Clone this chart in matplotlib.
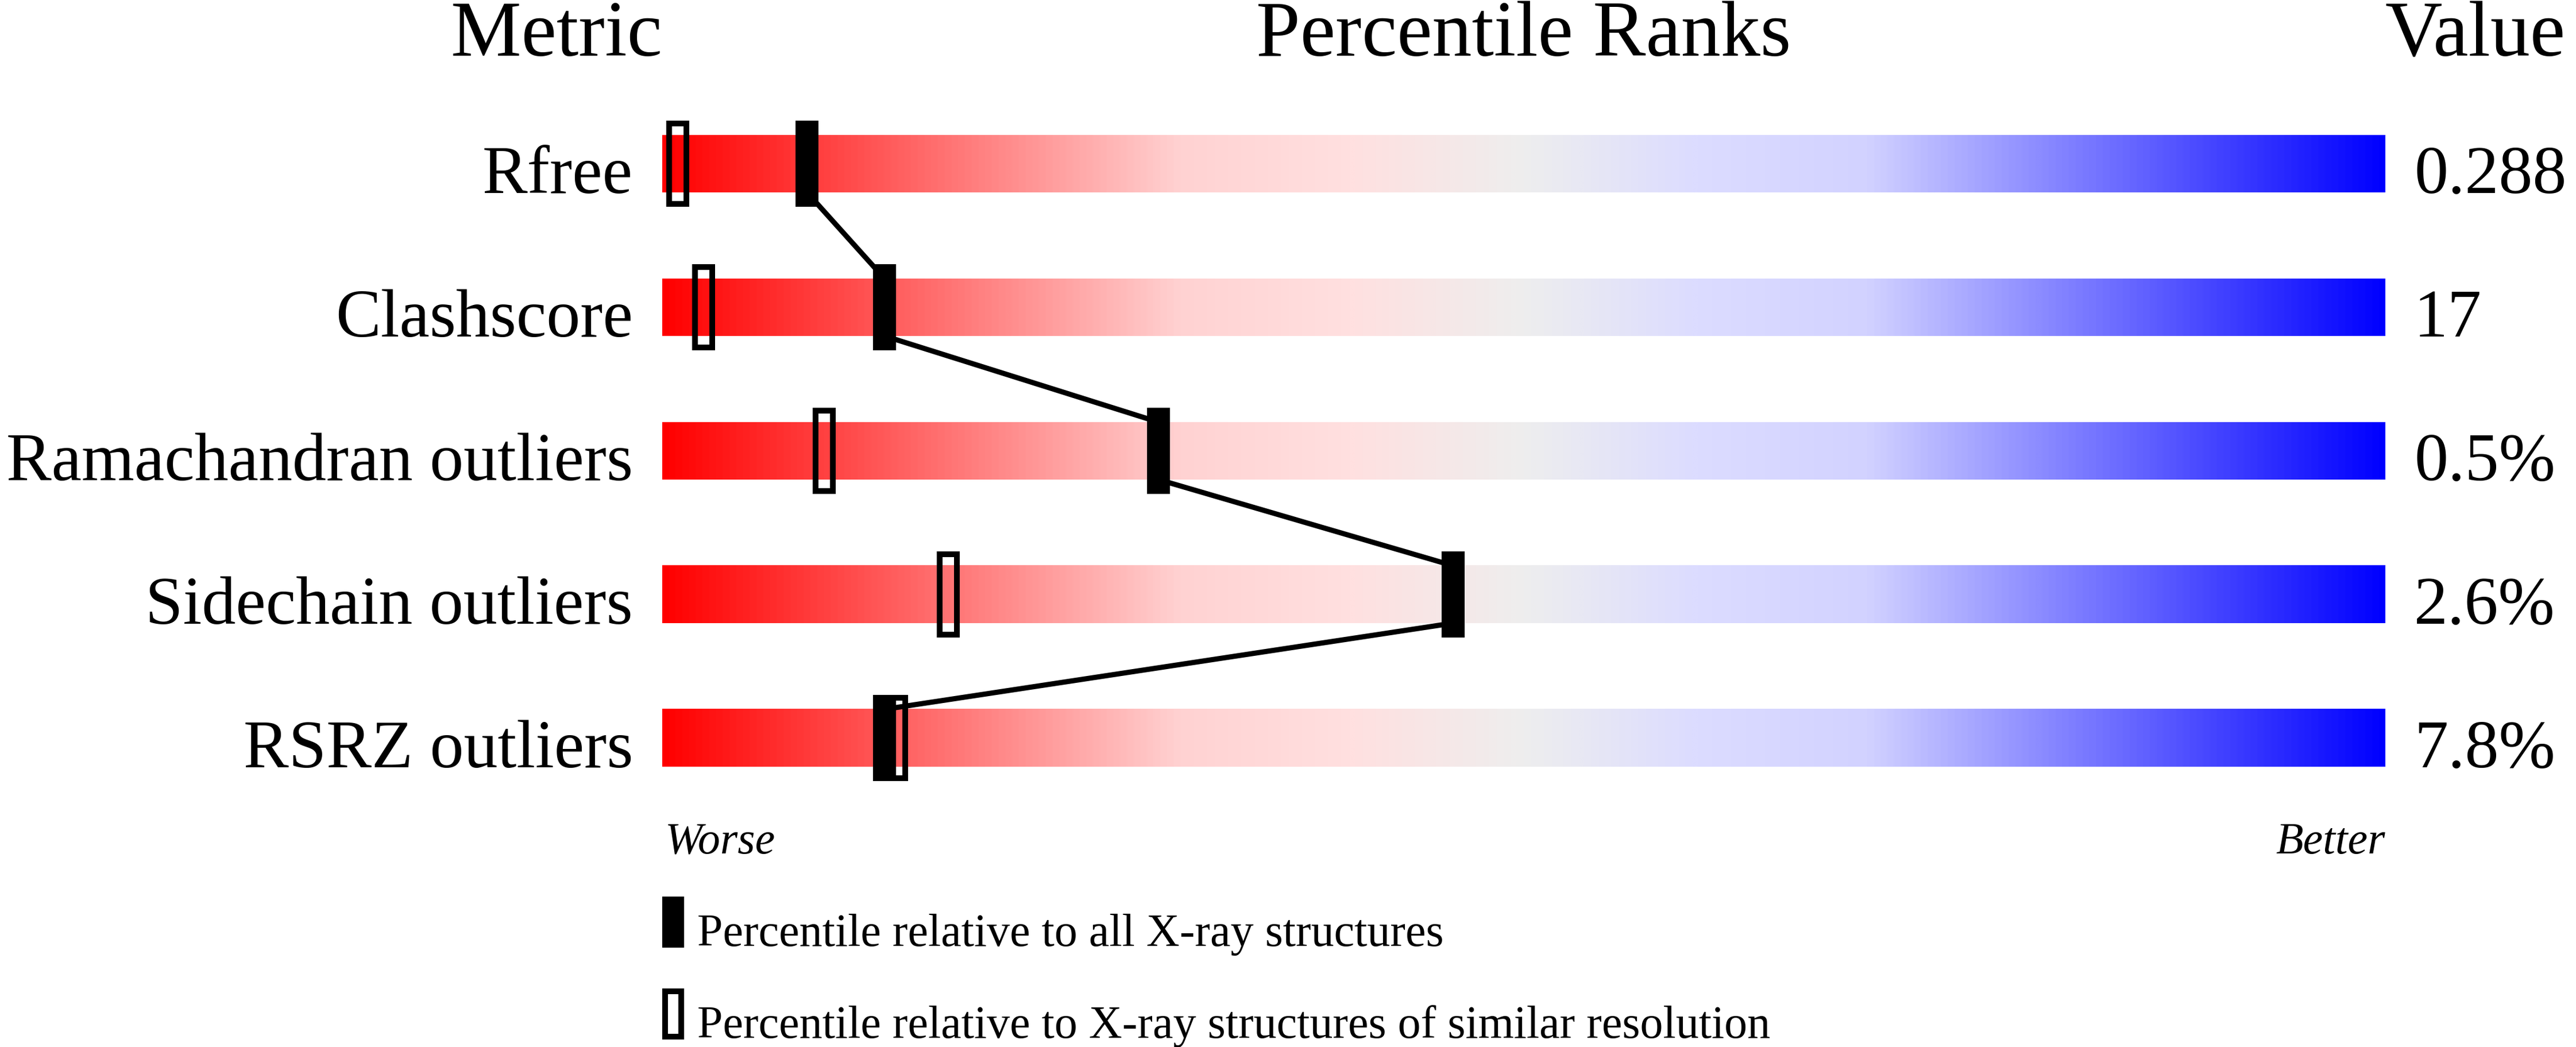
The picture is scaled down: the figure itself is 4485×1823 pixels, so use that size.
import numpy as np
import matplotlib
matplotlib.use("Agg")
import matplotlib.pyplot as plt
from matplotlib.colors import LinearSegmentedColormap
from matplotlib.patches import Rectangle

# ---------------- data ----------------
metrics = ["Rfree", "Clashscore", "Ramachandran outliers",
           "Sidechain outliers", "RSRZ outliers"]
values = ["0.288", "17", "0.5%", "2.6%", "7.8%"]
pct_all = [8.4, 12.9, 28.8, 45.9, 12.9]        # filled markers
pct_similar = [0.9, 2.4, 9.4, 16.6, 13.6]      # open markers
headers = ["Metric", "Percentile Ranks", "Value"]
end_labels = ["Worse", "Better"]
legend_labels = ["Percentile relative to all X-ray structures",
                 "Percentile relative to X-ray structures of similar resolution"]

# ---------------- layout ----------------
W, H, DPI = 4485, 1824, 100
plt.rcParams['font.family'] = ['Liberation Serif', 'DejaVu Serif']

fig = plt.figure(figsize=(W / DPI, H / DPI), dpi=DPI)
fig.patch.set_facecolor('white')
# bar area: x 1153..4153 px, rows centred every 250 px starting at 286 px
ax = fig.add_axes([1153 / W, 1 - 1411 / H, 3000 / W, 1250 / H])

n = len(metrics)
px_x = 100 / 3000.0      # data units per pixel (x)
px_y = 1 / 250.0         # data units per pixel (y)
bar_h = 100 * px_y
mark_w = 40 * px_x
mark_h = 150 * px_y
edge_px = 10
edge_pt = edge_px * 72 / DPI

cmap = LinearSegmentedColormap.from_list(
    'slider', [(0.0, '#ff0000'), (0.3, '#ffd2d2'), (0.4, '#ffe0e0'),
               (0.5, '#eeeeee'), (0.6, '#dcdcff'), (0.7, '#d2d2ff'),
               (1.0, '#0000ff')])
grad = np.linspace(0, 1, 1024)[None, :]

for i in range(n):
    ax.imshow(grad, cmap=cmap, aspect='auto', interpolation='bilinear',
              extent=(0, 100, i + bar_h / 2, i - bar_h / 2), zorder=1)

# connecting line between filled markers (bar bottom -> next bar top)
for i in range(n - 1):
    ax.plot([pct_all[i], pct_all[i + 1]], [i + bar_h / 2, i + 1 - bar_h / 2],
            color='black', lw=6.5, solid_capstyle='butt', zorder=2)

for i in range(n):
    ax.add_patch(Rectangle((pct_all[i] - mark_w / 2, i - mark_h / 2),
                           mark_w, mark_h, facecolor='black',
                           edgecolor='none', zorder=3))
    ax.add_patch(Rectangle((pct_similar[i] - mark_w / 2 + edge_px / 2 * px_x,
                            i - mark_h / 2 + edge_px / 2 * px_y),
                           mark_w - edge_px * px_x, mark_h - edge_px * px_y,
                           fill=False, edgecolor='black', lw=edge_pt,
                           joinstyle='miter', zorder=4))

label_fs = 118 * 72 / DPI
for i in range(n):
    ax.annotate(metrics[i], xy=(0, i + bar_h / 2), xytext=(-51 * 72 / DPI, 0),
                textcoords='offset points', ha='right', va='baseline',
                fontsize=label_fs, annotation_clip=False)
    ax.annotate(values[i], xy=(100, i + bar_h / 2), xytext=(50 * 72 / DPI, 0),
                textcoords='offset points', ha='left', va='baseline',
                fontsize=label_fs, annotation_clip=False)

# headers (baseline at 97 px)
head_fs = 138 * 72 / DPI
y_head = -0.5 - (161 - 97) * px_y
ax.text(0, y_head, headers[0], ha='right', va='baseline', fontsize=head_fs, clip_on=False)
ax.text(50, y_head, headers[1], ha='center', va='baseline', fontsize=head_fs, clip_on=False)
ax.text(100, y_head, headers[2], ha='left', va='baseline', fontsize=head_fs, clip_on=False)

# Worse / Better (baseline at 1486 px)
end_fs = 78 * 72 / DPI
y_end = 4.5 + (1486 - 1411) * px_y
ax.text(5 * px_x, y_end, end_labels[0], ha='left', va='baseline',
        fontsize=end_fs, style='italic', clip_on=False)
ax.text(100, y_end, end_labels[1], ha='right', va='baseline',
        fontsize=end_fs, style='italic', clip_on=False)

# legend
leg_fs = 80 * 72 / DPI
leg_w = 38 * px_x
leg_tops = [4.5 + (1562 - 1411) * px_y, 4.5 + (1722 - 1411) * px_y]
leg_h = 89 * px_y
leg_base = [4.5 + (1647 - 1411) * px_y, 4.5 + (1807 - 1411) * px_y]
ax.add_patch(Rectangle((0, leg_tops[0]), leg_w, leg_h, facecolor='black',
                       edgecolor='none', clip_on=False, zorder=3))
ax.add_patch(Rectangle((edge_px / 2 * px_x, leg_tops[1] + edge_px / 2 * px_y),
                       leg_w - edge_px * px_x, leg_h - edge_px * px_y,
                       fill=False, edgecolor='black', lw=edge_pt,
                       joinstyle='miter', clip_on=False, zorder=3))
for k in range(2):
    ax.text((1214 - 1153) * px_x, leg_base[k], legend_labels[k], ha='left',
            va='baseline', fontsize=leg_fs, clip_on=False)

ax.set_xlim(0, 100)
ax.set_ylim(4.5, -0.5)
ax.axis('off')

fig.savefig('out.png', dpi=DPI, facecolor='white')
